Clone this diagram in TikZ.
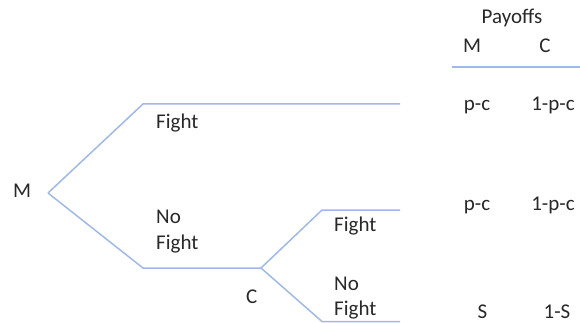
\documentclass[tikz,border=0pt]{standalone}
\usepackage{fontspec}
\setmainfont{Carlito}
\definecolor{branch}{RGB}{160,185,228}
\definecolor{txt}{RGB}{40,40,40}
\begin{document}
\begin{tikzpicture}[x=1pt,y=-1pt,
  lbl/.style={anchor=base west,inner sep=0pt,text=txt,font=\fontsize{21}{26}\selectfont},
  ctr/.style={anchor=base,inner sep=0pt,text=txt,font=\fontsize{21}{26}\selectfont},
  br/.style={draw=branch,line width=1.5pt}]
\useasboundingbox (0,0) rectangle (580,323);
% tree points
\coordinate (m) at (48,193);
\coordinate (uc) at (143,104);
\coordinate (ue) at (400,104);
\coordinate (lc) at (143,268);
\coordinate (c) at (261,268);
\coordinate (cuc) at (322,210);
\coordinate (cue) at (400,210);
\coordinate (clc) at (322,321.5);
\coordinate (cle) at (400,321.5);
\coordinate (rl) at (452,67);
\coordinate (rr) at (580,67);
\draw[br] (m) -- (uc) -- (ue);
\draw[br] (m) -- (lc) -- (c);
\draw[br] (c) -- (cuc) -- (cue);
\draw[br] (c) -- (clc) -- (cle);
\draw[br] (rl) -- (rr);
% labels
\node[lbl] (lm) at (13,197) {M};
\node[lbl] (f1) at (156,129) {Fight};
\node[lbl] (nf1a) at (156,223) {No};
\node[lbl] (nf1b) at (156,249) {Fight};
\node[lbl] (lc2) at (246,303) {C};
\node[lbl] (f2) at (334,231) {Fight};
\node[lbl] (nf2a) at (334,290) {No};
\node[lbl] (nf2b) at (334,315) {Fight};
% payoffs
\node[ctr] (pay) at (512,24) {Payoffs};
\node[ctr] (hm) at (472,53) {M};
\node[ctr] (hc) at (545,53) {C};
\node[ctr] (r1m) at (477,111) {p-c};
\node[ctr] (r1c) at (553,111) {1-p-c};
\node[ctr] (r2m) at (477,210) {p-c};
\node[ctr] (r2c) at (553,210) {1-p-c};
\node[ctr] (r3m) at (482.5,318) {S};
\node[ctr] (r3c) at (557,318) {1-S};
\end{tikzpicture}
\end{document}
